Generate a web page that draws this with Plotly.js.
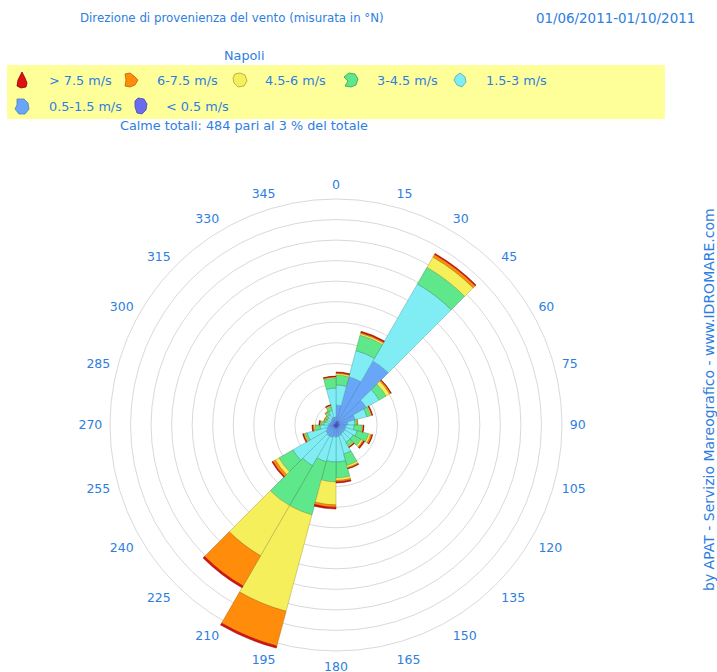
<!DOCTYPE html>
<html><head><meta charset="utf-8">
<script src="https://cdn.plot.ly/plotly-3.0.1.min.js"></script>
<style>html,body{margin:0;padding:0;background:#fff}#chart{width:717px;height:672px}</style>
</head><body><div id="chart"></div>
<script>
// Direction sectors (start of each 15-degree sector, degrees from North, clockwise)
const sectorStart = [0,15,30,45,60,75,90,105,120,135,150,165,180,195,210,225,240,255,270,285,300,315,330,345];
const tickDegrees = [0,15,30,45,60,75,90,105,120,135,150,165,180,195,210,225,240,255,270,285,300,315,330,345];
const classLabels = ['> 7.5 m/s','6-7.5 m/s','4.5-6 m/s','3-4.5 m/s','1.5-3 m/s','0.5-1.5 m/s','< 0.5 m/s'];

// Frequencies per sector (one ring of the grid = 1 unit)
const vLt05   = [0.19,0.19,0.24,0.19,0.15,0.15,0.15,0.15,0.15,0.15,0.15,0.15,0.15,0.15,0.15,0.15,0.15,0.15,0.10,0.10,0.10,0.10,0.10,0.15];
const v05_15  = [0.78,2.24,3.36,1.51,0.82,0.43,0.34,0.34,0.34,0.34,0.39,0.43,0.43,0.48,0.48,0.43,0.34,0.24,0.24,0.19,0.19,0.24,0.29,0.24];
const v15_3   = [0.98,1.32,4.33,0.73,0.59,0.34,0.39,0.58,0.48,0.48,0.92,1.22,1.22,1.22,1.66,1.85,0.97,0.39,0.24,0.20,0.20,0.24,0.34,1.41];
const v3_45   = [0.48,0.78,0.93,0.39,0.19,0.10,0.39,0.58,0.44,0.20,0.58,0.78,0.97,2.68,2.24,0.78,0.10,0.24,0.15,0.09,0.09,0.15,0.19,0.49];
const v45_6   = [0.08,0.09,0.58,0.20,0.05,0.03,0.04,0.10,0.10,0.05,0.10,0.12,1.12,4.86,2.82,0.20,0.05,0.07,0.05,0.03,0.03,0.02,0.05,0.05];
const v6_75   = [0.04,0.05,0.15,0.07,0.02,0.02,0.03,0.07,0.05,0.02,0.05,0.07,0.12,1.75,1.70,0.14,0.04,0.05,0.02,0.02,0.02,0.03,0.03,0.02];
const vGt75   = [0.03,0.05,0.05,0.02,0.03,0.00,0.02,0.03,0.05,0.03,0.02,0.05,0.08,0.10,0.10,0.05,0.03,0.03,0.03,0.00,0.00,0.00,0.02,0.02];

const TXT = '#2d7ee0';
const FONT = 'DejaVu Sans, Verdana, sans-serif';
const W = 717, H = 672;
const px = x => x / W, py = y => 1 - y / H;

const classes = [
  {r: vLt05,  fill: '#6b6bef', line: '#4a4ab0', label: classLabels[6]},
  {r: v05_15, fill: '#6aa6f8', line: '#4a7cc0', label: classLabels[5]},
  {r: v15_3,  fill: '#80ecf4', line: '#4fa8ae', label: classLabels[4]},
  {r: v3_45,  fill: '#5fe88b', line: '#3c9a5c', label: classLabels[3]},
  {r: v45_6,  fill: '#f4ef5a', line: '#a8a43c', label: classLabels[2]},
  {r: v6_75,  fill: '#ff8c0a', line: '#b86400', label: classLabels[1]},
  {r: vGt75,  fill: '#e01010', line: '#8a0000', label: classLabels[0]}
];

const traces = classes.map(c => ({
  type: 'barpolar',
  r: c.r,
  theta: sectorStart.map(a => a + 7.5),
  width: sectorStart.map(() => 15),
  name: c.label,
  marker: {color: c.fill, line: {color: c.line, width: 0.5}},
  hoverinfo: 'skip',
  showlegend: false
}));

// polar placement: centre (336,426), grid ring 11 at 226 px
const R = 233.2, cx = 336, cy = 425;
const layout = {
  width: W, height: H,
  margin: {l:0, r:0, t:0, b:0},
  paper_bgcolor: '#ffffff',
  font: {family: FONT, color: TXT},
  polar: {
    domain: {x: [(cx - R) / W, (cx + R) / W], y: [(H - cy - R) / H, (H - cy + R) / H]},
    bgcolor: '#ffffff',
    barmode: 'stack',
    bargap: 0,
    radialaxis: {range: [0, 11.35], tickmode: 'array', tickvals: [1,2,3,4,5,6,7,8,9,10,11],
      showticklabels: false, ticks: '', showline: false, gridcolor: '#d9d9d9', gridwidth: 1},
    angularaxis: {rotation: 90, direction: 'clockwise', tickmode: 'array',
      tickvals: tickDegrees, ticktext: tickDegrees.map(String),
      showgrid: false, showline: false, ticks: '',
      tickfont: {family: FONT, size: 12.5, color: TXT}}
  },
  shapes: [],
  annotations: []
};

// header texts
const ann = (x, y, text, opts) => Object.assign({xref:'paper', yref:'paper', x: px(x), y: py(y), text,
  showarrow:false, xanchor:'left', yanchor:'middle', font:{family:FONT, size:12.8, color:TXT}}, opts||{});
layout.annotations.push(ann(78, 18, 'Direzione di provenienza del vento (misurata in °N)', {font:{family:FONT, size:11.8, color:TXT}}));
layout.annotations.push(ann(697, 18, '01/06/2011-01/10/2011', {xanchor:'right', font:{family:FONT, size:13.4, color:TXT}}));
layout.annotations.push(ann(244, 55, 'Napoli', {xanchor:'center'}));
layout.annotations.push(ann(118, 125, 'Calme totali: 484 pari al 3 % del totale'));
layout.annotations.push(ann(709, 400, 'by APAT - Servizio Mareografico - www.IDROMARE.com',
  {xanchor:'center', textangle:-90, font:{family:FONT, size:14, color:TXT}}));

// legend box
layout.shapes.push({type:'rect', xref:'paper', yref:'paper', x0:px(7), x1:px(665), y0:py(119), y1:py(65),
  fillcolor:'#ffff99', line:{width:0}, layer:'below'});

// legend blobs
const blobs = [
  [[0,-8],[3,-2],[5,3],[4,7],[-1,8],[-5,6],[-4,0],[-2,-4]],
  [[-6,-6],[-1,-7],[3,-4],[7,0],[4,5],[-1,7],[-6,6],[-5,0]],
  [[-5,-6],[0,-7],[5,-5],[7,1],[4,6],[-2,7],[-6,3],[-7,-2]],
  [[-2,-7],[4,-6],[7,-1],[5,5],[0,7],[-6,6],[-3,1],[-7,-3]],
  [[0,-7],[5,-3],[6,2],[2,7],[-3,5],[-6,0],[-4,-4]],
  [[-5,-7],[2,-7],[6,-3],[7,3],[3,8],[-3,8],[-7,3],[-5,-1]],
  [[-3,-8],[3,-7],[6,-2],[5,4],[1,8],[-4,7],[-6,1],[-6,-5]]
];
const legendPos = [ // icon x, icon y, text x
  [22,80,47],[131,80,155],[240,80,263],[351,80,375],[460,80,484],
  [22,106,47],[141,106,164]
];
const legendOrder = [6,5,4,3,2,1,0]; // classes index: red..purple
legendOrder.forEach((ci, k) => {
  const c = classes[ci];
  const [ix, iy, tx] = legendPos[k];
  const pts = blobs[k].map(([dx,dy]) => `${px(ix+dx).toFixed(5)},${py(iy+dy).toFixed(5)}`);
  layout.shapes.push({type:'path', xref:'paper', yref:'paper', path:'M' + pts.join(' L') + ' Z',
    fillcolor:c.fill, line:{color:c.line, width:0.8}});
  layout.annotations.push(ann(tx, iy, c.label));
});

Plotly.newPlot('chart', traces, layout, {staticPlot:true, displayModeBar:false});
</script></body></html>
